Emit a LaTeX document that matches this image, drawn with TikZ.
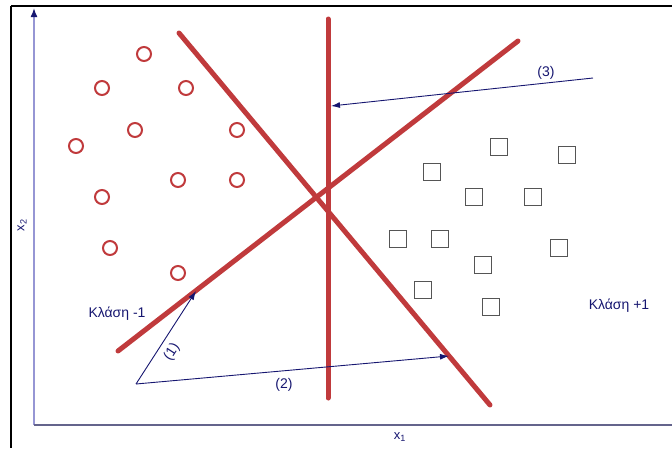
\documentclass[tikz,border=0pt]{standalone}
\usepackage{fontspec}
\setmainfont{Liberation Sans}
\usetikzlibrary{arrows.meta}
\definecolor{svmred}{RGB}{192,58,60}
\definecolor{svmnavy}{RGB}{22,22,112}
\definecolor{yaxcol}{RGB}{150,150,212}
\definecolor{xaxcol}{RGB}{100,100,140}
\definecolor{boxgray}{RGB}{85,85,85}
\tikzset{
  hyperplane/.style={svmred,line width=5pt,line cap=round},
  vecarrow/.style={svmnavy,line width=0.9pt,-{Latex[length=9pt,width=6pt]}},
  klassneg/.style={circle,draw=svmred,line width=2pt,minimum size=14pt,inner sep=0pt},
  klasspos/.style={rectangle,draw=boxgray,line width=1.5pt,minimum size=17pt,inner sep=0pt},
  lbl/.style={svmnavy,font=\fontsize{14}{16}\selectfont,inner sep=1pt}
}

\begin{document}
\begin{tikzpicture}[x=1pt,y=-1pt]
\useasboundingbox (0,0) rectangle (672,448);
% frame
\draw[line width=2.5pt] (11,6) -- (672,6);
\draw[line width=2.5pt] (11,6) -- (11,448);
% axes
\coordinate (O) at (34,425);
\coordinate (ytop) at (34,8);
\coordinate (xend) at (672,425);
\draw[yaxcol,line width=1.5pt,-{Latex[length=9pt,width=7pt,color=svmnavy]}] (O) -- (ytop);
\draw[xaxcol,line width=1.5pt] (O) -- (xend);
\node[lbl,font=\fontsize{13}{15}\selectfont] (xlab) at (400,437) {x\textsubscript{1}};
\node[lbl,font=\fontsize{13}{15}\selectfont,rotate=90] (ylab) at (22,225) {x\textsubscript{2}};
% class -1
\foreach \px/\py [count=\i] in {144/54,102/88,186/88,135/130,237/130,76/146,
  178/180,237/180,102/197,110/248,178/273}{
  \node[klassneg] (c\i) at (\px,\py) {};
}
% class +1
\foreach \px/\py [count=\i] in {499/147,567/155,432/172,474/197,533/197,398/239,
  440/239,559/248,483/265,423/290,491/307}{
  \node[klasspos] (s\i) at (\px,\py) {};
}
% separating lines
\coordinate (h1a) at (179,33);
\coordinate (h1b) at (490,405);
\coordinate (h2a) at (328,19);
\coordinate (h2b) at (328,398);
\coordinate (h3a) at (118,351);
\coordinate (h3b) at (518,41);
\draw[hyperplane] (h1a) -- (h1b);
\draw[hyperplane] (h2a) -- (h2b);
\draw[hyperplane] (h3a) -- (h3b);
% moves
\coordinate (p0) at (136,384);
\coordinate (q1) at (196,291);
\coordinate (q2) at (449,356);
\coordinate (p3) at (593,78);
\coordinate (q3) at (331,106);
\draw[vecarrow] (p0) -- (q1);
\draw[vecarrow] (p0) -- (q2);
\draw[vecarrow] (p3) -- (q3);
\node[lbl,rotate=57] (m1) at (172,352) {(1)};
\node[lbl] (m2) at (284,385) {(2)};
\node[lbl] (m3) at (546,73) {(3)};
\node[lbl] (neg) at (117,314) {Κλάση -1};
\node[lbl] (pos) at (619,306) {Κλάση +1};
\end{tikzpicture}
\end{document}
